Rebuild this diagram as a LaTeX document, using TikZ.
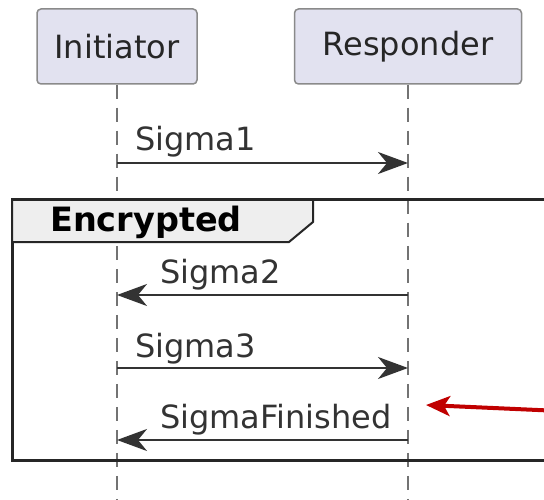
\documentclass[tikz,border=0pt]{standalone}
\usepackage{fontspec}
\setmainfont{DejaVu Sans}
\usetikzlibrary{arrows.meta}
\definecolor{partfill}{HTML}{E2E2F0}
\definecolor{partline}{HTML}{8A8A8A}
\definecolor{tabfill}{HTML}{EEEEEE}
\definecolor{noteRed}{HTML}{C00000}
\begin{document}
\begin{tikzpicture}
[x=1pt,y=-1pt,
  partdecorate/.style={draw=partline,fill=partfill,line width=1.5pt,rounded corners=4pt,
    minimum width=160pt,minimum height=75pt,font=\fontsize{32}{36}\selectfont,text=black!85},
  lifedecorate/.style={draw=black!55,line width=1.5pt,dash pattern=on 14pt off 9pt},
  msgdecorate/.style={draw=black!80,line width=2pt,-{Stealth[length=30pt,width=22pt,inset=9pt]}},
  labeldecorate/.style={anchor=base west,inner sep=0pt,font=\fontsize{32}{36}\selectfont,text=black!80}]
\clip (0,0) rectangle (544,500);
% participants
\node (init) at (117,46.5) [partdecorate,minimum width=160pt] {Initiator};
\node (resp) at (408,46.5) [partdecorate,minimum width=227pt] {Responder};
\coordinate (initend) at (117,500);
\coordinate (respend) at (408,500);
\path (init.south) edge[lifedecorate] (initend)
      (resp.south) edge[lifedecorate] (respend);
% group frame
\draw[line width=3pt,black!85] (12,200) rectangle (580,460);
\draw[line width=2pt,black!85,fill=tabfill] (12,200) -- (313,200) -- (313,222) -- (289,242) -- (12,242) -- cycle;
\node (grp) at (50,232) [labeldecorate,font=\fontsize{33.5}{36}\selectfont\bfseries,text=black] {Encrypted};
% message ends on lifelines
\coordinate (i1) at (117,163); \coordinate (r1) at (408,163);
\coordinate (i2) at (117,295); \coordinate (r2) at (408,295);
\coordinate (i3) at (117,368); \coordinate (r3) at (408,368);
\coordinate (i4) at (117,440); \coordinate (r4) at (408,440);
% messages
\path
(i1) edge[msgdecorate] (r1)
(r2) edge[msgdecorate] (i2)
(i3) edge[msgdecorate] (r3)
(r4) edge[msgdecorate] (i4);
\node (l1) at (135,151) [labeldecorate] {Sigma1};
\node (l2) at (160,283) [labeldecorate] {Sigma2};
\node (l3) at (135,357) [labeldecorate] {Sigma3};
\node (l4) at (160,428) [labeldecorate] {SigmaFinished};
% pointer
\coordinate (ptrstart) at (560,411);
\coordinate (ptrend) at (426,405);
\draw[noteRed,line width=4pt,-{Stealth[length=24pt,width=20pt,inset=6pt]}] (ptrstart) -- (ptrend);
\end{tikzpicture}
\end{document}
